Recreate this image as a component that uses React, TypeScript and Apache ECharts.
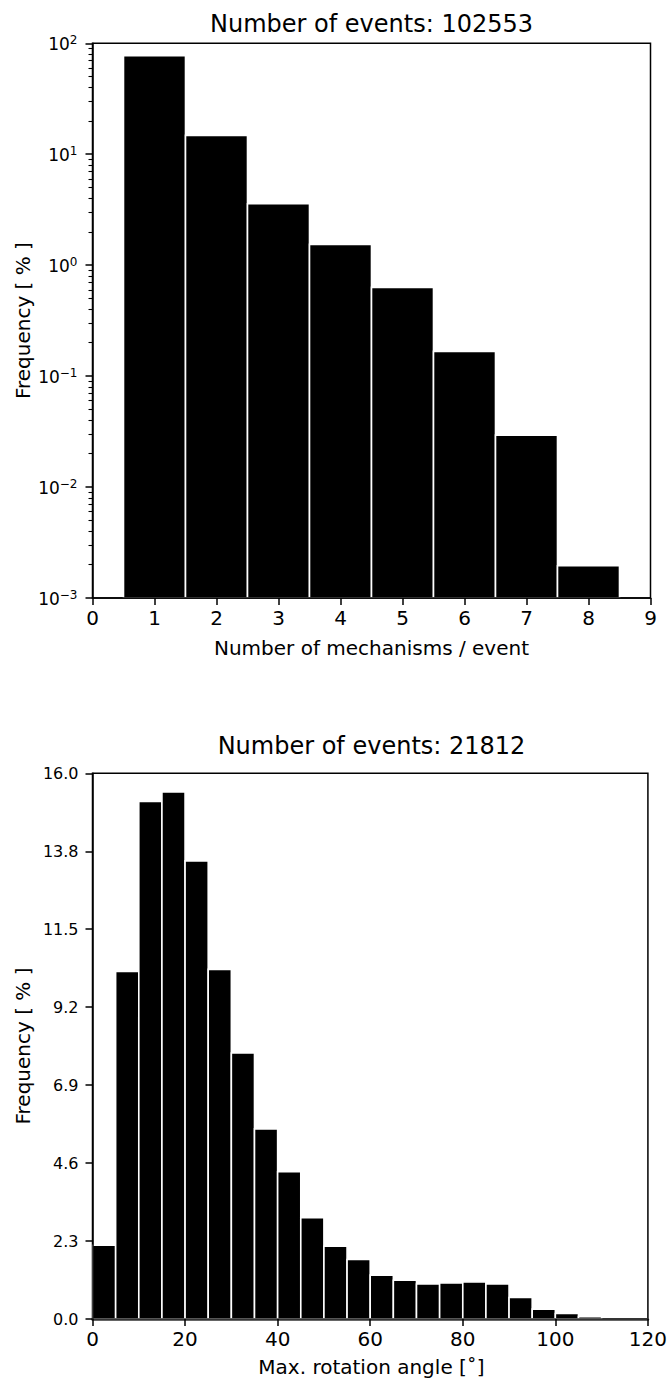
import React, { useEffect, useRef } from "react";
import * as echarts from "echarts";

// ---------- data: top chart (number of mechanisms per event) ----------
const topTitle = "Number of events: 102553";
const topCategories = [1, 2, 3, 4, 5, 6, 7, 8];
const topValues = [77.3, 14.8, 3.58, 1.54, 0.631, 0.167, 0.0294, 0.00195];
const topYTickValues = [0.001, 0.01, 0.1, 1, 10, 100];
const topYTickExponents = ["−3", "−2", "−1", "0", "1", "2"];
const minorMultipliers = [2, 3, 4, 5, 6, 7, 8, 9];
const topXLabel = "Number of mechanisms / event";

// ---------- data: bottom chart (max rotation angle) ----------
const bottomTitle = "Number of events: 21812";
const bottomBinStarts = [0, 5, 10, 15, 20, 25, 30, 35, 40, 45, 50, 55, 60, 65, 70, 75, 80, 85, 90, 95, 100, 105];
const bottomBinWidth = 5;
const bottomValues = [2.17, 10.22, 15.22, 15.5, 13.47, 10.28, 7.82, 5.59, 4.33, 2.98, 2.14, 1.75, 1.29, 1.14, 1.03, 1.06, 1.09, 1.03, 0.63, 0.29, 0.16, 0.07];
const bottomYTickLabels = ["0.0", "2.3", "4.6", "6.9", "9.2", "11.5", "13.8", "16.0"];
const bottomYMax = 16.045;
const bottomXLabel = "Max. rotation angle [˚]";
const yLabel = "Frequency [ % ]";

const FONT = "DejaVu Sans";

export default function App() {
  const ref = useRef<HTMLDivElement>(null);
  useEffect(() => {
    if (!ref.current) return;
    const chart = echarts.init(ref.current, null, { renderer: "svg" });

    const topMinor: number[] = [];
    topYTickValues.slice(0, -1).forEach((d) => minorMultipliers.forEach((m) => topMinor.push(d * m)));

    const topData = topCategories.map((c, i) => [c - 0.5, c + 0.5, topValues[i]]);
    const bottomData = bottomBinStarts.map((s, i) => [s, s + bottomBinWidth, bottomValues[i]]);
    const bottomInterval = bottomYMax / (bottomYTickLabels.length - 1);

    const makeRender = (base: number) => (params: any, api: any) => {
      const p0 = api.coord([api.value(0), api.value(2)]);
      const p1 = api.coord([api.value(1), base]);
      return {
        type: "rect",
        shape: { x: p0[0], y: p0[1], width: p1[0] - p0[0], height: p1[1] - p0[1] },
        style: { fill: "#000", stroke: "#fff", lineWidth: 1.6 },
      };
    };

    const L = 92.5, W = 558;
    const tickLine = { lineStyle: { color: "#000", width: 1.5 } };

    const option: any = {
      animation: false,
      grid: [
        { left: L, width: W, top: 43.3, height: 554.7, show: true, borderColor: "#000", borderWidth: 1.5, containLabel: false },
        { left: L, width: W, top: 773.3, height: 545.7, show: true, borderColor: "#000", borderWidth: 1.5, containLabel: false },
      ],
      xAxis: [
        {
          type: "value", gridIndex: 0, min: 0, max: 9, interval: 1, z: 5,
          axisLine: { show: true, ...tickLine },
          axisTick: { show: true, length: 7, ...tickLine },
          axisLabel: { fontSize: 20, fontFamily: FONT, color: "#000", margin: 10 },
          splitLine: { show: false },
        },
        {
          type: "value", gridIndex: 1, min: 0, max: 120, interval: 20, z: 5,
          axisLine: { show: true, lineStyle: { color: "#333", width: 2.5 } },
          axisTick: { show: true, length: 7, ...tickLine },
          axisLabel: { fontSize: 20, fontFamily: FONT, color: "#000", margin: 10 },
          splitLine: { show: false },
        },
      ],
      yAxis: [
        {
          type: "log", gridIndex: 0, min: 0.001, max: 100, logBase: 10, z: 5, position: "left",
          axisLine: { show: true, ...tickLine },
          axisTick: { show: true, length: 7, customValues: topYTickValues, ...tickLine },
          axisLabel: {
            customValues: topYTickValues,
            margin: 15,
            formatter: (v: number) => {
              const i = topYTickValues.findIndex((t) => Math.abs(Math.log10(t) - Math.log10(v)) < 1e-6);
              return `{b|10}{s|${topYTickExponents[i]}}`;
            },
            rich: {
              b: { fontSize: 17, fontFamily: FONT, color: "#000", lineHeight: 19, verticalAlign: "bottom" },
              s: { fontSize: 12, fontFamily: FONT, color: "#000", lineHeight: 12, verticalAlign: "top" },
            },
          },
          splitLine: { show: false },
        },
        {
          type: "log", gridIndex: 0, min: 0.001, max: 100, logBase: 10, z: 5, position: "left", offset: 0,
          axisLine: { show: false },
          axisTick: { show: true, length: 4, customValues: topMinor, lineStyle: { color: "#000", width: 1.1 } },
          axisLabel: { show: false },
          splitLine: { show: false },
        },
        {
          type: "value", gridIndex: 1, min: 0, max: bottomYMax, interval: bottomInterval, z: 5,
          axisLine: { show: true, ...tickLine },
          axisTick: { show: true, length: 7, ...tickLine },
          axisLabel: {
            fontSize: 16, fontFamily: FONT, color: "#000", margin: 14,
            formatter: (v: number) => bottomYTickLabels[Math.round(v / bottomInterval)] ?? "",
          },
          splitLine: { show: false },
        },
      ],
      series: [
        {
          type: "custom", xAxisIndex: 0, yAxisIndex: 0, clip: true,
          encode: { x: [0, 1], y: 2 },
          data: topData,
          renderItem: makeRender(0.001),
        },
        {
          type: "custom", xAxisIndex: 1, yAxisIndex: 2, clip: true,
          encode: { x: [0, 1], y: 2 },
          data: bottomData,
          renderItem: makeRender(0),
        },
      ],
      graphic: [
        { type: "text", x: 371.5, y: 24, style: { text: topTitle, fontSize: 24, fontFamily: FONT, fill: "#000", align: "center", verticalAlign: "middle" } },
        { type: "text", x: 371.5, y: 746, style: { text: bottomTitle, fontSize: 24, fontFamily: FONT, fill: "#000", align: "center", verticalAlign: "middle" } },
        { type: "text", x: 371.5, y: 648, style: { text: topXLabel, fontSize: 20, fontFamily: FONT, fill: "#000", align: "center", verticalAlign: "middle" } },
        { type: "text", x: 371.5, y: 1367, style: { text: bottomXLabel, fontSize: 20, fontFamily: FONT, fill: "#000", align: "center", verticalAlign: "middle" } },
        { type: "text", x: 23, y: 320.6, rotation: Math.PI / 2, style: { text: yLabel, fontSize: 20, fontFamily: FONT, fill: "#000", align: "center", verticalAlign: "middle" } },
        { type: "text", x: 23, y: 1046, rotation: Math.PI / 2, style: { text: yLabel, fontSize: 20, fontFamily: FONT, fill: "#000", align: "center", verticalAlign: "middle" } },
      ],
    };
    chart.setOption(option);
    return () => chart.dispose();
  }, []);
  return (
    <div
      ref={ref}
      style={{ position: "absolute", left: 0, top: 0, width: 670, height: 1381, background: "#fff" }}
    />
  );
}
